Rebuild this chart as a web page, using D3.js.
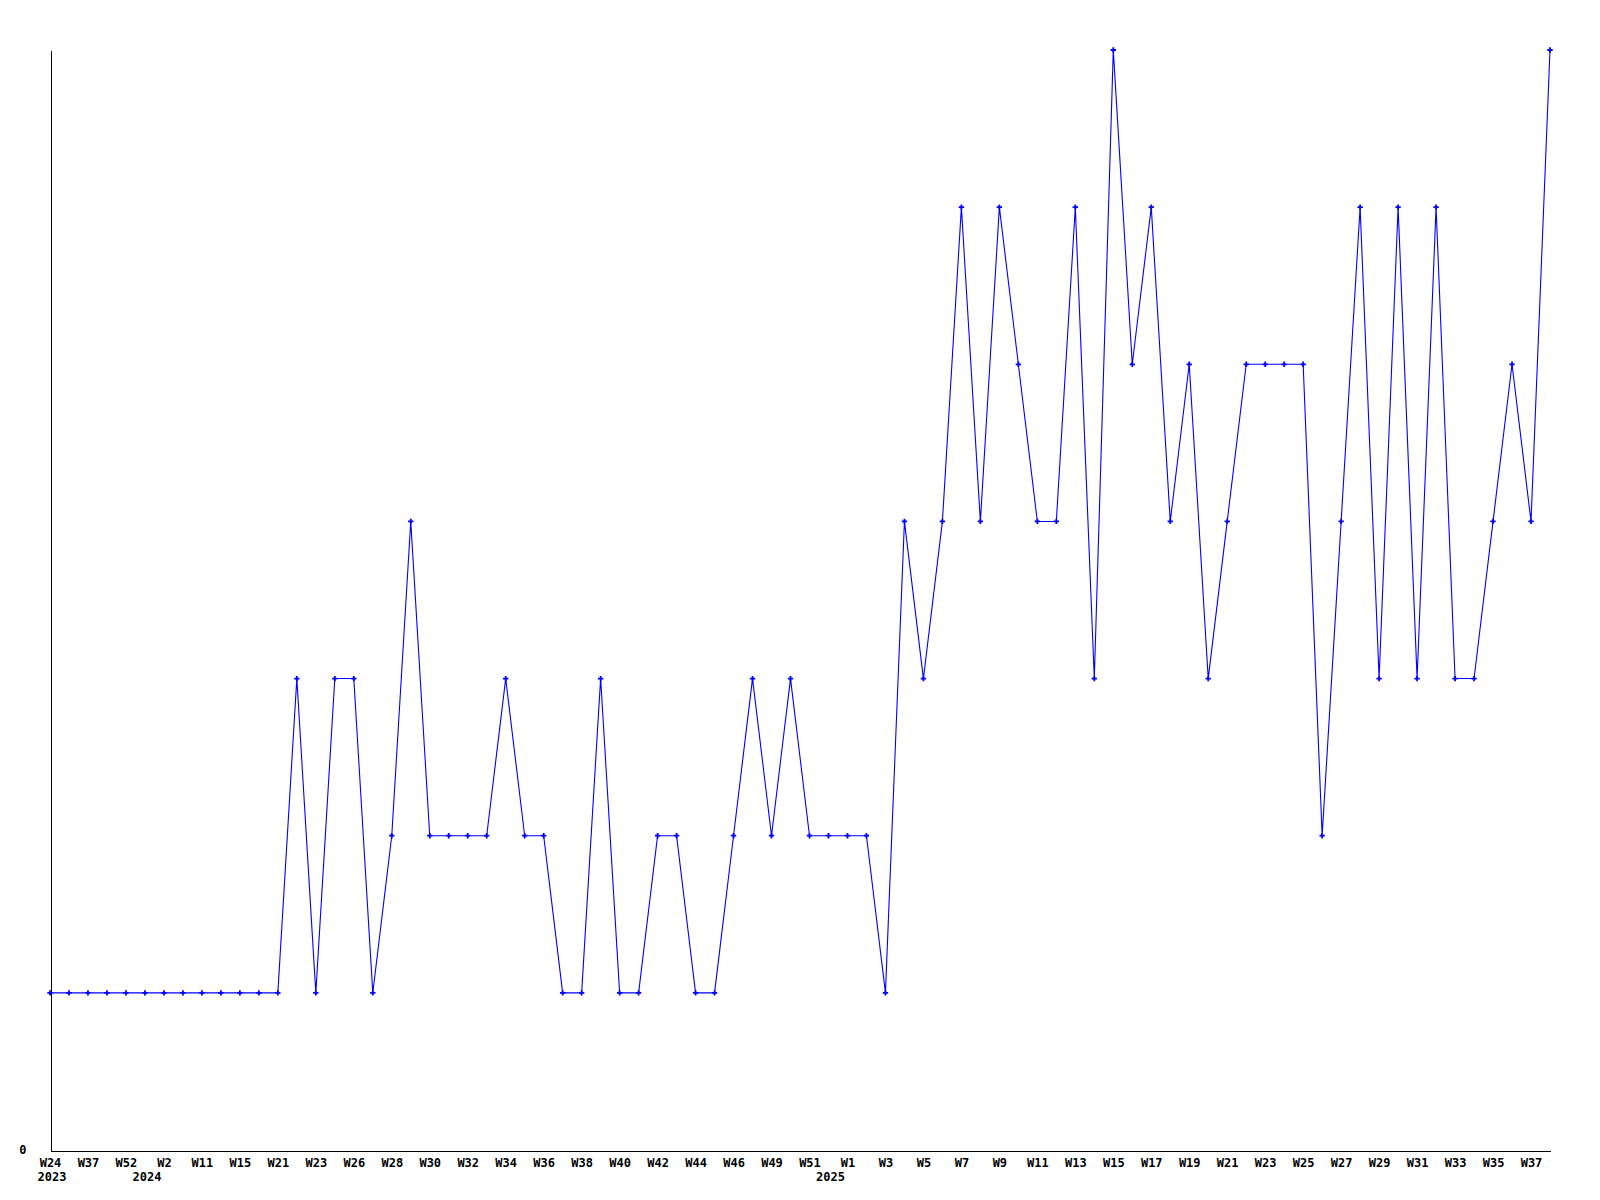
<!DOCTYPE html>
<html>
<head>
  <meta charset="UTF-8">
  <title></title>
  <style>
    body { margin: 0; background: #fff; }
    text { font-family: 'DejaVu Sans Mono', monospace; font-weight: bold; font-size: 12px; fill: #000; }
    .axis path { stroke: #000; shape-rendering: crispEdges; }
    .series { fill: none; stroke: #0000ff; stroke-width: 1.1; }
    .dot { fill: #0000ff; }
  </style>
</head>
<body>
  <script src="https://cdnjs.cloudflare.com/ajax/libs/d3/7.8.5/d3.min.js"></script>
  <script>
/// data

// one entry per point; only every other week gets a label on the axis
var weeks = ["W24", "W30", "W37", "W45", "W52",
  "W1", "W2", "W6", "W11", "W13", "W15", "W18", "W21", "W22", "W23", "W25", "W26", "W27", "W28", "W29",
  "W30", "W31", "W32", "W33", "W34", "W35", "W36", "W37", "W38", "W39", "W40", "W41", "W42", "W43",
  "W44", "W45", "W46", "W48", "W49", "W50", "W51", "W52",
  "W1", "W2", "W3", "W4", "W5", "W6", "W7", "W8", "W9", "W10", "W11", "W12", "W13", "W14", "W15",
  "W16", "W17", "W18", "W19", "W20", "W21", "W22", "W23", "W24", "W25", "W26", "W27", "W28", "W29",
  "W30", "W31", "W32", "W33", "W34", "W35", "W36", "W37", "W38"];

var years = ["2023", "2024", "2025"];
var yearStart = [0, 5, 41];   // point index where each year label sits

var values = [1, 1, 1, 1, 1, 1, 1, 1, 1, 1, 1, 1, 1, 3, 1, 3, 3, 1, 2, 4,
  2, 2, 2, 2, 3, 2, 2, 1, 1, 3, 1, 1, 2, 2, 1, 1, 2, 3, 2, 3,
  2, 2, 2, 2, 1, 4, 3, 4, 6, 4, 6, 5, 4, 4, 6, 3, 7, 5, 6, 4,
  5, 3, 4, 5, 5, 5, 5, 2, 4, 6, 3, 6, 3, 6, 3, 3, 4, 5, 4, 7];

var yTicks = [0];

/// chart

var width = 1600, height = 1200;
var svg = d3.select("body").append("svg")
    .attr("width", width)
    .attr("height", height);

var idx = d3.range(values.length);

var x = d3.scalePoint()
    .domain(idx)
    .range([50, 1550]);

var y = d3.scaleLinear()
    .domain([0, 7])
    .range([1150, 50]);

// y axis: only the 0 label
var yAxis = svg.append("g")
    .attr("class", "axis")
    .attr("transform", "translate(50.5,0)")
    .call(d3.axisLeft(y).tickValues(yTicks).tickFormat(d3.format("d"))
      .tickSize(0).tickSizeOuter(0).tickPadding(24));
yAxis.selectAll("text").attr("dy", "0.3em");

// x axis: week label on every second point
var xAxis = svg.append("g")
    .attr("class", "axis")
    .attr("transform", "translate(0,1150.5)")
    .call(d3.axisBottom(x)
      .tickValues(idx.filter(function(i) { return i % 2 === 0; }))
      .tickFormat(function(i) { return weeks[i]; })
      .tickSize(0).tickSizeOuter(0).tickPadding(8));
xAxis.selectAll("text").attr("dy", "0.7em");
xAxis.selectAll(".tick line").remove();

// year labels under the weeks
svg.append("g")
  .selectAll("text")
  .data(years)
  .enter().append("text")
    .attr("x", function(d, i) { return x(yearStart[i]) + 2; })
    .attr("y", 1181)
    .attr("text-anchor", "middle")
    .text(function(d) { return d; });

// series
var line = d3.line()
    .x(function(d, i) { return x(i); })
    .y(function(d) { return y(d); });

svg.append("path")
    .datum(values)
    .attr("class", "series")
    .attr("d", line);

svg.append("g")
  .selectAll("path")
  .data(values)
  .enter().append("path")
    .attr("class", "dot")
    .attr("transform", function(d, i) { return "translate(" + x(i) + "," + y(d) + ")"; })
    .attr("d", d3.symbol().type(d3.symbolCross).size(16));
  </script>
</body>
</html>
